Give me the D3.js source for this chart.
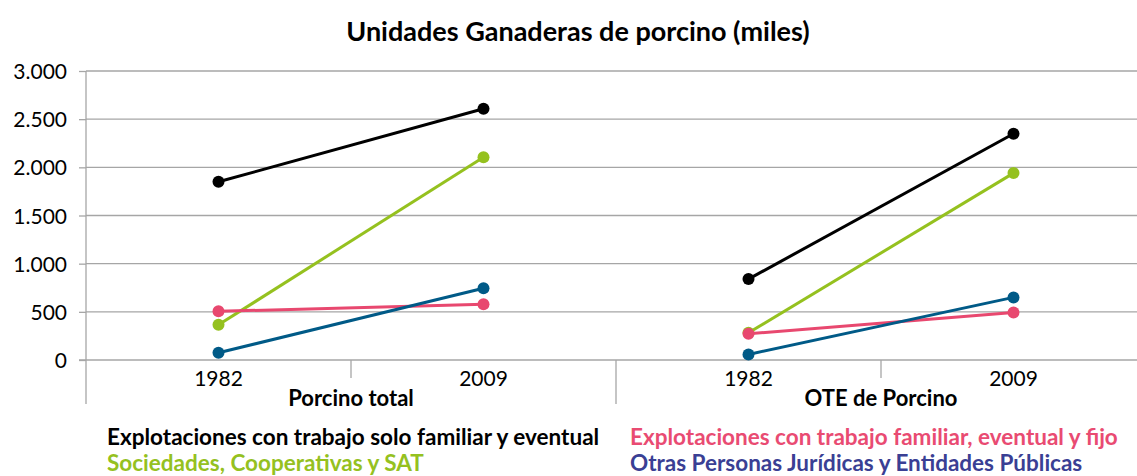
<!DOCTYPE html>
<html>
<head>
<meta charset="utf-8">
<script src="https://cdn.jsdelivr.net/npm/d3@7"></script>
<style>
  html, body { margin: 0; padding: 0; background: #fff; }
  svg { display: block; font-family: Lato, "Open Sans", sans-serif; }
</style>
</head>
<body>
<svg id="chart" width="1137" height="476"></svg>
<script>
// Groups and years on the two-level category axis
const groups = ["Porcino total", "OTE de Porcino"];
const years = ["1982", "2009"];

// Y axis ticks (thousands, Spanish thousands separator)
const yTicks = [0, 500, 1000, 1500, 2000, 2500, 3000];

// Series names (legend text)
const seriesNames = [
  "Explotaciones con trabajo solo familiar y eventual",
  "Sociedades, Cooperativas y SAT",
  "Explotaciones con trabajo familiar, eventual y fijo",
  "Otras Personas Jurídicas y Entidades Públicas"
];

// Values per series in order: Porcino total 1982, 2009, OTE de Porcino 1982, 2009
const soloFamiliar   = [1850, 2608, 840, 2348];
const sociedades     = [365, 2105, 282, 1940];
const familiarFijo   = [505, 578, 272, 492];
const otrasPersonas  = [75, 745, 58, 650];

const lineColors   = ["#000000", "#95c11f", "#e8486f", "#005a87"];
const legendColors = ["#000000", "#95c11f", "#e94b72", "#3a3f94"];
const seriesValues = [soloFamiliar, sociedades, familiarFijo, otrasPersonas];

const svg = d3.select("#chart");

const plotLeft = 86, plotRight = 1146, plotTop = 71, plotBottom = 360;

// Flattened category keys
const cats = [];
groups.forEach(g => years.forEach(yr => cats.push(g + "|" + yr)));

const x = d3.scaleBand().domain(cats).range([plotLeft, plotRight]).padding(0);
const y = d3.scaleLinear().domain([0, 3000]).range([plotBottom, plotTop]);
const cx = c => x(c) + x.bandwidth() / 2;

const fmt = v => d3.format(",")(v).replace(/,/g, ".");

// Title
svg.append("text")
  .attr("x", 578).attr("y", 41)
  .attr("text-anchor", "middle")
  .attr("font-weight", "bold")
  .attr("font-size", 27)
  .attr("fill", "#000")
  .text("Unidades Ganaderas de porcino (miles)");

// Horizontal gridlines
svg.append("g").selectAll("line")
  .data(yTicks.filter(d => d > 0))
  .join("line")
  .attr("x1", plotLeft).attr("x2", 1137)
  .attr("y1", d => y(d)).attr("y2", d => y(d))
  .attr("stroke", "#a6a6a6").attr("stroke-width", 1.3);

// Y axis
const yAxis = d3.axisLeft(y).tickValues(yTicks).tickFormat(fmt).tickSize(7).tickPadding(12);
const gy = svg.append("g").attr("transform", `translate(${plotLeft},0)`).call(yAxis);
gy.select(".domain").remove();
gy.selectAll(".tick line").attr("stroke", "#a6a6a6").attr("stroke-width", 1.3);
gy.selectAll(".tick text").attr("font-size", 21).attr("fill", "#000")
  .attr("font-family", "Lato, sans-serif").attr("dy", "0.36em");
// Vertical axis line, extending down through the category label area
svg.append("line")
  .attr("x1", plotLeft).attr("x2", plotLeft)
  .attr("y1", plotTop).attr("y2", 404)
  .attr("stroke", "#a6a6a6").attr("stroke-width", 1.3);

// X axis baseline
svg.append("line")
  .attr("x1", plotLeft - 7).attr("x2", 1137)
  .attr("y1", plotBottom).attr("y2", plotBottom)
  .attr("stroke", "#a6a6a6").attr("stroke-width", 1.3);

// Category separators: short ticks between years, long ticks between groups
cats.forEach((c, i) => {
  if (i === 0) return;
  const xx = x(c);
  const isGroupEdge = i % years.length === 0;
  svg.append("line")
    .attr("x1", xx).attr("x2", xx)
    .attr("y1", plotBottom).attr("y2", isGroupEdge ? 404 : 378)
    .attr("stroke", "#a6a6a6").attr("stroke-width", 1.3);
});

// Year labels
svg.append("g").selectAll("text")
  .data(cats)
  .join("text")
  .attr("x", d => cx(d)).attr("y", 386)
  .attr("text-anchor", "middle")
  .attr("font-size", 21).attr("fill", "#000")
  .text(d => d.split("|")[1]);

// Group labels
svg.append("g").selectAll("text")
  .data(groups)
  .join("text")
  .attr("x", g => (x(g + "|" + years[0]) + x(g + "|" + years[years.length - 1]) + x.bandwidth()) / 2)
  .attr("y", 406)
  .attr("text-anchor", "middle")
  .attr("font-size", 22).attr("font-weight", "bold").attr("fill", "#000")
  .text(g => g);

// Lines and markers: each group is drawn as its own segment
const line = d3.line().x(d => cx(d.cat)).y(d => y(d.v));
seriesValues.forEach((vals, si) => {
  const g = svg.append("g");
  groups.forEach((grp, gi) => {
    const pts = years.map((yr, yi) => ({ cat: grp + "|" + yr, v: vals[gi * years.length + yi] }));
    g.append("path")
      .attr("d", line(pts))
      .attr("fill", "none")
      .attr("stroke", lineColors[si])
      .attr("stroke-width", 3);
    g.selectAll(null).data(pts).join("circle")
      .attr("cx", d => cx(d.cat)).attr("cy", d => y(d.v))
      .attr("r", 6)
      .attr("fill", lineColors[si]);
  });
});

// Legend (two columns)
const legendPos = [[107, 445], [107, 471], [630, 445], [630, 471]];
svg.append("g").selectAll("text")
  .data(seriesNames)
  .join("text")
  .attr("x", (d, i) => legendPos[i][0])
  .attr("y", (d, i) => legendPos[i][1])
  .attr("font-size", 22.5).attr("font-weight", "bold")
  .attr("fill", (d, i) => legendColors[i])
  .text(d => d);
</script>
</body>
</html>
